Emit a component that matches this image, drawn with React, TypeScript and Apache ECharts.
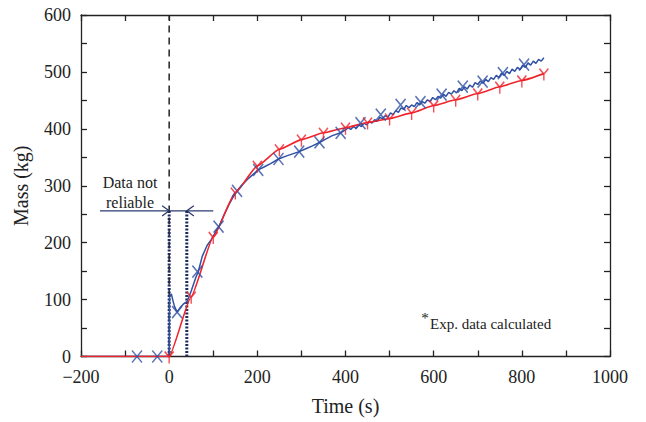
import React, { useEffect, useRef } from "react";
import * as echarts from "echarts";

// Calculated (red) curve: [time s, mass kg]
const redCurve: [number, number][] = [
  [-200, 0], [0, 0], [50, 105], [100, 210], [150, 288], [200, 335], [250, 364],
  [300, 381], [350, 393], [400, 402], [450, 411], [500, 418], [550, 428],
  [600, 441], [650, 451], [700, 462], [750, 474], [800, 485], [850, 497],
];
const redMarkers: [number, number][] = redCurve.filter((p) => p[0] >= 0);

// Experimental (blue) curve
const blueCurve: [number, number][] = [
  [-200, 0], [0, 0], [1, 105], [5, 110], [8, 100], [12, 88], [18, 78], [25, 86],
  [32, 92], [41, 97], [50, 115], [60, 138], [66, 149], [75, 176], [86, 195],
  [95, 205], [105, 218], [114, 230], [125, 250], [135, 266], [145, 280],
  [155, 291], [165, 301], [180, 313], [195, 323], [202, 328], [215, 333],
  [230, 339], [248, 347], [265, 352], [280, 356], [295, 360], [310, 365],
  [325, 370], [341, 376], [355, 382], [370, 388], [389, 393], [400, 398],
  [406, 402], [412, 399], [418, 404], [424, 401], [430, 407], [436, 404],
  [442, 410], [448, 407], [454, 413], [460, 410], [466, 416], [472, 413],
  [478, 420], [484, 418], [490, 423], [496, 420], [502, 428], [508, 425],
  [514, 432], [520, 429], [526, 437], [532, 434], [538, 441], [544, 437],
  [550, 442], [556, 439], [562, 446], [568, 442], [574, 448], [580, 445],
  [586, 451], [592, 448], [598, 455], [604, 451], [610, 457], [616, 454],
  [622, 461], [628, 457], [634, 464], [640, 461], [646, 467], [652, 463],
  [658, 471], [664, 467], [670, 474], [676, 470], [682, 477], [688, 473],
  [694, 481], [700, 478], [706, 484], [712, 480], [718, 487], [724, 483],
  [730, 490], [736, 487], [742, 494], [748, 490], [754, 498], [760, 494],
  [766, 501], [772, 497], [778, 505], [784, 501], [790, 508], [796, 504],
  [802, 512], [808, 508], [814, 516], [820, 512], [826, 519], [832, 515],
  [838, 522], [844, 519], [850, 525],
];
const blueMarkers: [number, number][] = [
  [-73, 0], [-27, 0], [18, 78], [64, 149], [112, 228], [154, 291], [202, 328],
  [248, 347], [295, 360], [341, 376], [389, 393], [434, 410], [480, 425],
  [525, 442], [570, 447], [618, 460], [666, 474], [711, 483], [757, 498],
  [805, 513],
];

// Annotation (data coordinates)
const unreliableStart = 0;
const unreliableEnd = 40;
const annotationLevel = 256;
const annotationFrom = -157;
const annotationTo = 100;

const FONT = "Liberation Serif";
const BLUE = "#3050a3";
const RED = "#f0222a";
const NAVY = "#1e2b5e";

const X_PATH = "path://M0,0L10,12M10,0L0,12";
const Y_PATH = "path://M0,0L5,6M10,0L5,6M5,6L5,13";

export default function App() {
  const ref = useRef<HTMLDivElement>(null);
  useEffect(() => {
    if (!ref.current) return;
    const chart = echarts.init(ref.current, undefined, { renderer: "svg" });
    const axisLine = { show: true, onZero: false, lineStyle: { color: "#222", width: 1.3 } };
    const tick = { show: true, inside: true, length: 6, lineStyle: { color: "#222", width: 1.3 } };
    const minor = { show: true, splitNumber: 2, length: 6, lineStyle: { color: "#222", width: 1.3 } };
    const fmt = (v: number) => (v < 0 ? "\u2212" + Math.abs(v) : String(v));
    const line = (data: [number, number][], color: string, width: number, type: any = "solid", z = 2) => ({
      type: "line",
      data,
      symbol: "none",
      silent: true,
      z,
      lineStyle: { color, width, type },
    });
    chart.setOption({
      animation: false,
      grid: { left: 81, top: 15, right: 36, bottom: 65.5 },
      xAxis: [
        {
          type: "value", min: -200, max: 1000, interval: 200,
          name: "Time (s)", nameLocation: "middle", nameGap: 39,
          nameTextStyle: { fontFamily: FONT, fontSize: 20, color: "#222" },
          axisLine, axisTick: tick, minorTick: minor, splitLine: { show: false },
          axisLabel: { fontFamily: FONT, fontSize: 18, color: "#222", margin: 11, formatter: fmt, showMinLabel: true, showMaxLabel: true },
        },
        {
          type: "value", min: -200, max: 1000, interval: 200, position: "top",
          axisLine, axisTick: tick, minorTick: minor, splitLine: { show: false },
          axisLabel: { show: false },
        },
      ],
      yAxis: [
        {
          type: "value", min: 0, max: 600, interval: 100,
          name: "Mass (kg)", nameLocation: "middle", nameGap: 50,
          nameTextStyle: { fontFamily: FONT, fontSize: 20, color: "#222" },
          axisLine, axisTick: tick, minorTick: minor, splitLine: { show: false },
          axisLabel: { fontFamily: FONT, fontSize: 18, color: "#222", margin: 10 },
        },
        {
          type: "value", min: 0, max: 600, interval: 100, position: "right",
          axisLine, axisTick: tick, minorTick: minor, splitLine: { show: false },
          axisLabel: { show: false },
        },
      ],
      series: [
        line([[unreliableStart, 0], [unreliableStart, 600]], "#222", 1.5, [7, 5]),
        line([[unreliableStart, 0], [unreliableStart, annotationLevel]], NAVY, 3, [2, 1.5], 3),
        line([[unreliableEnd, 0], [unreliableEnd, annotationLevel]], NAVY, 3, [2, 1.5], 3),
        line([[annotationFrom, annotationLevel], [annotationTo, annotationLevel]], "#2b3a70", 1.3),
        line([[unreliableStart - 16, annotationLevel + 9], [unreliableStart, annotationLevel], [unreliableStart - 16, annotationLevel - 9]], "#2b3a70", 1.3),
        line([[unreliableEnd + 16, annotationLevel + 9], [unreliableEnd, annotationLevel], [unreliableEnd + 16, annotationLevel - 9]], "#2b3a70", 1.3),
        line(blueCurve, BLUE, 1.5, "solid", 4),
        { ...line(redCurve, RED, 1.6, "solid", 5), smooth: 0.15, smoothMonotone: "x" },
        {
          type: "scatter", data: blueMarkers, symbol: X_PATH, symbolSize: [10, 12], z: 6, silent: true,
          itemStyle: { color: "transparent", borderColor: BLUE, borderWidth: 1.6 },
        },
        {
          type: "scatter", data: redMarkers, symbol: Y_PATH, symbolSize: [9, 12], symbolOffset: [0, 1], z: 6, silent: true,
          itemStyle: { color: "transparent", borderColor: RED, borderWidth: 1.6 },
        },
      ],
      graphic: [
        { type: "text", x: 130, y: 182, style: { text: "Data not", fontFamily: FONT, fontSize: 16, fill: "#222", align: "center", verticalAlign: "middle" } },
        { type: "text", x: 130, y: 202, style: { text: "reliable", fontFamily: FONT, fontSize: 16, fill: "#222", align: "center", verticalAlign: "middle" } },
        { type: "text", x: 425, y: 318, style: { text: "*", fontFamily: FONT, fontSize: 15, fill: "#222", align: "center", verticalAlign: "middle" } },
        { type: "text", x: 430, y: 324, style: { text: "Exp. data calculated", fontFamily: FONT, fontSize: 15, fill: "#222", align: "left", verticalAlign: "middle" } },
      ],
    });
    return () => chart.dispose();
  }, []);
  return <div ref={ref} style={{ position: "absolute", left: 0, top: 0, width: 646, height: 422, background: "#fff" }} />;
}
